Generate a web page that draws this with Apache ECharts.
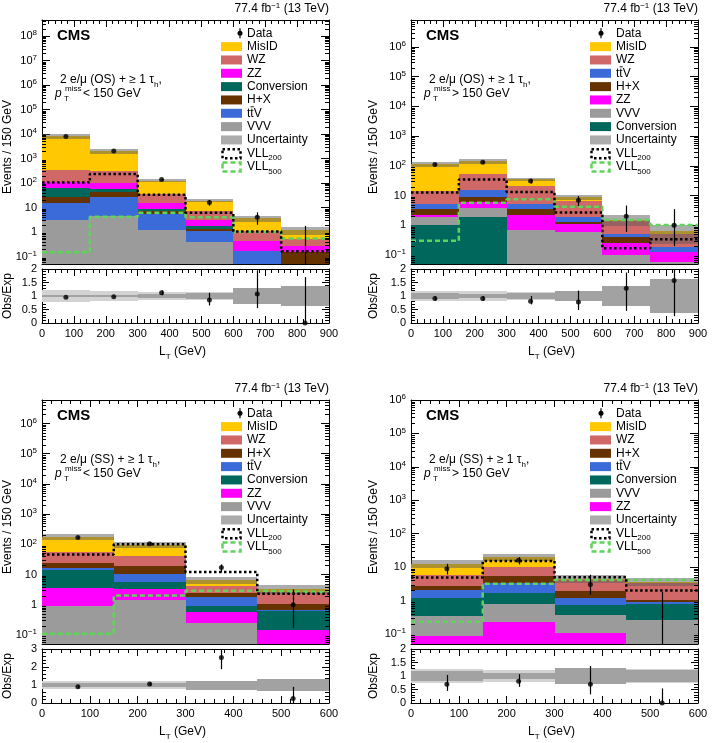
<!DOCTYPE html>
<html>
<head>
<meta charset="utf-8">
<title>L_T distributions, 2 e/mu + tau_h</title>
<script src="https://cdn.jsdelivr.net/npm/echarts@6/dist/echarts.min.js"></script>
<style>
  html, body { margin: 0; padding: 0; background: #fff; }
  #chart { width: 712px; height: 743px; }
</style>
</head>
<body>
<div id="chart"></div>
<script>
// bin edges of L_T (GeV)
var edges6 = [0, 150, 300, 450, 600, 750, 900];
var edges4 = [0, 150, 300, 450, 600];

// 2 e/mu (OS) + >=1 tau_h, ptmiss < 150 GeV  (yields per bin)
var p1_vvv = [3.1, 4.7, 1.27, 0.4, 0.005, 0.005];
var p1_ttv = [12.7, 21.3, 4.0, 0.7, 0.165, 0];
var p1_hx = [12.2, 19, 1.7, 0.3, 0, 0.145];
var p1_conv = [38, 14, 2.0, 0.45, 0, 0];
var p1_zz = [49, 46, 5.8, 1.25, 0.27, 0.11];
var p1_wz = [225, 205, 20, 4.3, 0.63, 0.24];
var p1_misid = [7660, 1690, 90, 11.6, 2.6, 0.7];
var p1_vll200 = [105, 235, 33.5, 6.2, 1.07, 0.165];
var p1_vll500 = [0.15, 4.2, 6.2, 4.0, 1.0, 0.55];
var p1_data = [7950, 2040, 140, 16, 4, 0];
var p1_dataLo = [7860, 1995, 128, 12, 2, 0];
var p1_dataHi = [8040, 2085, 152, 20, 6.4, 1.8];
var p1_ratio = [0.95, 0.97, 1.12, 0.85, 1.07, 0];
var p1_ratioLo = [0.94, 0.95, 1.03, 0.65, 0.55, 0];
var p1_ratioHi = [0.96, 0.99, 1.21, 1.12, 1.95, 1.7];
var p1_syst = [0.21, 0.2, 0.15, 0.15, 0.15, 0.2];
var p1_stat = [0.05, 0.04, 0.07, 0.11, 0.29, 0.36];

// 2 e/mu (OS) + >=1 tau_h, ptmiss > 150 GeV
var p2_conv = [1.05, 1.95, 0, 0, 0, 0];
var p2_vvv = [0.85, 1.95, 0.7, 0.58, 0.1, 0.06];
var p2_zz = [0.4, 2.3, 1.6, 0.5, 0.15, 0.07];
var p2_hx = [1.3, 2.9, 1.1, 0.25, 0.17, 0];
var p2_ttv = [1.8, 5.9, 2.0, 0.62, 0.08, 0.05];
var p2_wz = [8.5, 39, 15, 4.55, 0.9, 0.32];
var p2_misid = [101, 86, 15, 2.5, 0.15, 0.15];
var p2_vll200 = [12.6, 35, 13.3, 2.7, 0.17, 0.34];
var p2_vll500 = [0.3, 5.7, 7.5, 4.2, 1.5, 1.02];
var p2_data = [110, 133, 31, 7, 2, 1];
var p2_dataLo = [100, 122, 25.4, 4.4, 0.6, 0.2];
var p2_dataHi = [120, 144, 36.6, 9.6, 4.6, 3.5];
var p2_ratio = [0.91, 0.91, 0.81, 0.78, 1.29, 1.57];
var p2_ratioLo = [0.83, 0.83, 0.69, 0.48, 0.45, 0.25];
var p2_ratioHi = [0.99, 0.99, 1.0, 1.2, 1.87, 1.97];
var p2_syst = [0.2, 0.2, 0.13, 0.15, 0.3, 0.5];
var p2_stat = [0.1, 0.08, 0.12, 0.2, 0.38, 0.63];

// 2 e/mu (SS) + >=1 tau_h, ptmiss < 150 GeV
var p3_vvv = [0.93, 1.47, 0.25, 0.03];
var p3_zz = [2.67, 1.73, 0.32, 0.12];
var p3_conv = [10, 2.5, 0.31, 0.45];
var p3_ttv = [3.1, 4.8, 0.87, 0.08];
var p3_hx = [7.8, 8.5, 0.7, 0.39];
var p3_wz = [32.5, 22, 1.65, 1.53];
var p3_misid = [123, 54, 2.4, 0.7];
var p3_vll200 = [46, 100, 12, 2.3];
var p3_vll500 = [0.11, 2.0, 2.9, 2.6];
var p3_data = [167, 105, 17, 1];
var p3_dataLo = [154, 95, 11.7, 0.17];
var p3_dataHi = [180, 115, 21.5, 3.2];
var p3_ratio = [0.9, 1.05, 2.53, 0.25];
var p3_ratioLo = [0.83, 0.95, 1.88, 0];
var p3_ratioHi = [0.97, 1.15, 3.0, 0.9];
var p3_syst = [0.23, 0.23, 0.2, 0.2];
var p3_stat = [0.09, 0.09, 0.25, 0.33];

// 2 e/mu (SS) + >=1 tau_h, ptmiss > 150 GeV
var p4_zz = [0.089, 0.23, 0.11, 0.01];
var p4_vvv = [0.26, 0.57, 0.26, 0.25];
var p4_conv = [0.85, 0.9, 0.39, 0.54];
var p4_ttv = [0.8, 1.6, 0.44, 0.11];
var p4_hx = [0.7, 2.0, 0.7, 0.16];
var p4_wz = [3.2, 5.1, 2.3, 2.33];
var p4_misid = [6.7, 9.4, 0.3, 0.3];
var p4_vll200 = [4.9, 15.2, 5.0, 2.0];
var p4_vll500 = [0.23, 3.2, 4.1, 4.1];
var p4_data = [9, 16, 3, 0];
var p4_dataLo = [6, 12, 1.5, 0];
var p4_dataHi = [12.5, 20, 5.9, 1.8];
var p4_ratio = [0.69, 0.81, 0.69, 0];
var p4_ratioLo = [0.45, 0.6, 0.32, 0];
var p4_ratioHi = [1.04, 1.07, 1.37, 0.54];
var p4_syst = [0.27, 0.22, 0.28, 0.27];
var p4_stat = [0.18, 0.12, 0.28, 0.21];

var TTV = 'ttV';
var FONT = '"Liberation Sans", Arial, Helvetica, sans-serif';
var colors = {
  'MisID': '#ffc800', 'WZ': '#d06868', 'ZZ': '#ff00ff', 'Conversion': '#00675c',
  'H+X': '#663300', 'ttV': '#3a6bd8', 'VVV': '#9b9b9b'
};
var UNC = 'rgba(90,90,90,0.5)';
var LIGHT = '#d3d3d3', DARK = '#a2a2a2';

var panels = [
  { left: 42, top: 20, edges: edges6, yMax: 4.5e8, rMax: 2, rStep: 0.5, sign: 'OS', cut: '<', titleDx: 34, dotDx: 19,
    layers: [['VVV', p1_vvv], [TTV, p1_ttv], ['H+X', p1_hx], ['Conversion', p1_conv], ['ZZ', p1_zz], ['WZ', p1_wz], ['MisID', p1_misid]],
    vll200: p1_vll200, vll500: p1_vll500, data: p1_data, dataLo: p1_dataLo, dataHi: p1_dataHi,
    ratio: p1_ratio, ratioLo: p1_ratioLo, ratioHi: p1_ratioHi, syst: p1_syst, stat: p1_stat },
  { left: 411, top: 20, edges: edges6, yMax: 8e6, rMax: 2, rStep: 0.5, sign: 'OS', cut: '>', titleDx: 37, dotDx: 11,
    layers: [['Conversion', p2_conv], ['VVV', p2_vvv], ['ZZ', p2_zz], ['H+X', p2_hx], [TTV, p2_ttv], ['WZ', p2_wz], ['MisID', p2_misid]],
    vll200: p2_vll200, vll500: p2_vll500, data: p2_data, dataLo: p2_dataLo, dataHi: p2_dataHi,
    ratio: p2_ratio, ratioLo: p2_ratioLo, ratioHi: p2_ratioHi, syst: p2_syst, stat: p2_stat },
  { left: 42, top: 400, edges: edges4, yMax: 6e6, rMax: 3, rStep: 1, sign: 'SS', cut: '<', titleDx: 34, dotDx: 19,
    layers: [['VVV', p3_vvv], ['ZZ', p3_zz], ['Conversion', p3_conv], [TTV, p3_ttv], ['H+X', p3_hx], ['WZ', p3_wz], ['MisID', p3_misid]],
    vll200: p3_vll200, vll500: p3_vll500, data: p3_data, dataLo: p3_dataLo, dataHi: p3_dataHi,
    ratio: p3_ratio, ratioLo: p3_ratioLo, ratioHi: p3_ratioHi, syst: p3_syst, stat: p3_stat },
  { left: 411, top: 400, edges: edges4, yMax: 1e6, rMax: 2, rStep: 0.5, sign: 'SS', cut: '>', titleDx: 37, dotDx: 11,
    layers: [['ZZ', p4_zz], ['VVV', p4_vvv], ['Conversion', p4_conv], [TTV, p4_ttv], ['H+X', p4_hx], ['WZ', p4_wz], ['MisID', p4_misid]],
    vll200: p4_vll200, vll500: p4_vll500, data: p4_data, dataLo: p4_dataLo, dataHi: p4_dataHi,
    ratio: p4_ratio, ratioLo: p4_ratioLo, ratioHi: p4_ratioHi, syst: p4_syst, stat: p4_stat }
];

var W = 287, H = 244, RH = 54, GAP = 5, YMIN = 0.05;

function richSet(size) {
  return {
    m: { fontSize: size, fontFamily: FONT, fill: '#000' },
    i: { fontSize: size, fontFamily: FONT, fontStyle: 'italic', fill: '#000' },
    b: { fontSize: size, fontFamily: FONT, fontWeight: 'bold', fill: '#000' },
    sub: { fontSize: Math.round(size * 0.7), fontFamily: FONT, fill: '#000', padding: [Math.round(size * 0.8), 0, 0, 0] },
    sup: { fontSize: Math.round(size * 0.7), fontFamily: FONT, fill: '#000', padding: [0, 0, Math.round(size * 0.5), 0] }
  };
}

function txt(x, y, text, o) {
  o = o || {};
  var size = o.size || 12;
  return {
    type: 'text', x: x, y: y, rotation: o.rot || 0, silent: true, z: 100,
    style: {
      text: text, fill: '#000', fontSize: size, fontFamily: FONT,
      fontWeight: o.weight || 'normal', fontStyle: o.style || 'normal',
      align: o.align || 'left', textAlign: o.align || 'left',
      verticalAlign: 'middle', textVerticalAlign: 'middle',
      rich: richSet(size)
    }
  };
}

function logLabel(v) {
  var l = Math.log10(v), e = Math.round(l);
  if (Math.abs(l - e) > 1e-6) return '';
  if (e === 0) return '1';
  if (e === 1) return '10';
  return '{b|10}{s|' + (e < 0 ? '\u2212' + (-e) : e) + '}';
}

function xAxisCfg(gi, pos, xMax, labels) {
  return {
    type: 'value', gridIndex: gi, position: pos, min: 0, max: xMax, interval: 100,
    axisLine: { onZero: false, lineStyle: { color: '#000', width: 1 } },
    axisTick: { inside: true, length: 7, lineStyle: { color: '#000' } },
    minorTick: { show: true, splitNumber: 5, length: 4, lineStyle: { color: '#000' } },
    splitLine: { show: false }, minorSplitLine: { show: false },
    axisLabel: { show: labels, margin: 5, color: '#000', fontSize: 11, fontFamily: FONT }
  };
}

function logAxisCfg(gi, pos, yMax, labels) {
  return {
    type: 'log', logBase: 10, gridIndex: gi, position: pos, min: YMIN, max: yMax, splitNumber: 10,
    axisLine: { onZero: false, lineStyle: { color: '#000', width: 1 } },
    axisTick: { inside: true, length: 8, lineStyle: { color: '#000' } },
    minorTick: { show: false }, splitLine: { show: false },
    axisLabel: {
      show: labels, margin: 5, color: '#000', fontSize: 11, fontFamily: FONT, formatter: logLabel,
      rich: {
        b: { fontSize: 11, fontFamily: FONT, color: '#000' },
        s: { fontSize: 8, fontFamily: FONT, color: '#000', padding: [0, 0, 6, 0] }
      }
    }
  };
}

function ratioAxisCfg(gi, pos, p, labels) {
  return {
    type: 'value', gridIndex: gi, position: pos, min: 0, max: p.rMax, interval: p.rStep,
    axisLine: { onZero: false, lineStyle: { color: '#000', width: 1 } },
    axisTick: { inside: true, length: 7, lineStyle: { color: '#000' } },
    minorTick: { show: true, splitNumber: 5, length: 4, lineStyle: { color: '#000' } },
    splitLine: { show: false }, minorSplitLine: { show: false },
    axisLabel: { show: labels, margin: 5, color: '#000', fontSize: 11, fontFamily: FONT }
  };
}

function rectRender(style) {
  return function (params, api) {
    var a = api.coord([api.value(0), api.value(3)]);
    var b = api.coord([api.value(1), api.value(2)]);
    var x0 = Math.round(a[0]), y0 = Math.round(a[1]), x1 = Math.round(b[0]), y1 = Math.round(b[1]);
    return { type: 'rect', shape: { x: x0, y: y0, width: x1 - x0, height: y1 - y0 }, style: style };
  };
}

function errRender(params, api) {
  var a = api.coord([api.value(0), api.value(1)]);
  var b = api.coord([api.value(0), api.value(2)]);
  var x = Math.round(a[0]) + 0.5;
  return { type: 'line', shape: { x1: x, y1: a[1], x2: x, y2: b[1] }, style: { stroke: '#000', lineWidth: 1.2 } };
}

var option = { animation: false, backgroundColor: '#fff', grid: [], xAxis: [], yAxis: [], series: [], graphic: [] };
var G = option.graphic;

panels.forEach(function (p) {
  var nb = p.edges.length - 1, xMax = p.edges[nb], k;
  var centers = [];
  for (k = 0; k < nb; k++) centers.push((p.edges[k] + p.edges[k + 1]) / 2);
  var rTop = p.top + H + GAP;
  var gi = option.grid.length;
  option.grid.push({ left: p.left, top: p.top, width: W, height: H });
  option.grid.push({ left: p.left, top: rTop, width: W, height: RH });
  var xi = option.xAxis.length, yi = option.yAxis.length;
  option.xAxis.push(xAxisCfg(gi, 'bottom', xMax, false), xAxisCfg(gi, 'top', xMax, false),
    xAxisCfg(gi + 1, 'bottom', xMax, true), xAxisCfg(gi + 1, 'top', xMax, false));
  option.yAxis.push(logAxisCfg(gi, 'left', p.yMax, true), logAxisCfg(gi, 'right', p.yMax, false),
    ratioAxisCfg(gi + 1, 'left', p, true), ratioAxisCfg(gi + 1, 'right', p, false));

  // stacked backgrounds
  var cum = [];
  for (k = 0; k < nb; k++) cum.push(0);
  p.layers.forEach(function (l) {
    var items = [];
    l[1].forEach(function (v, b) {
      var lo = cum[b], hi = cum[b] + v;
      cum[b] = hi;
      var y0 = Math.max(lo, YMIN), y1 = Math.min(hi, p.yMax);
      if (y1 > y0) items.push([p.edges[b], p.edges[b + 1], y0, y1]);
    });
    option.series.push({
      type: 'custom', name: l[0], xAxisIndex: xi, yAxisIndex: yi, z: 2, silent: true,
      encode: { x: [0, 1], y: [2, 3] }, data: items, renderItem: rectRender({ fill: colors[l[0]] })
    });
  });

  // uncertainty band on the total
  var band = [];
  for (k = 0; k < nb; k++) {
    var u = Math.max(p.syst[k], p.stat[k]);
    band.push([p.edges[k], p.edges[k + 1], Math.max(cum[k] * (1 - u), YMIN), cum[k] * (1 + u)]);
  }
  option.series.push({
    type: 'custom', name: 'Uncertainty', xAxisIndex: xi, yAxisIndex: yi, z: 3, silent: true,
    encode: { x: [0, 1], y: [2, 3] }, data: band, renderItem: rectRender({ fill: UNC })
  });

  // signal outlines
  function stepData(vals) {
    return p.edges.map(function (e, j) { return [e, vals[Math.min(j, vals.length - 1)]]; });
  }
  option.series.push({
    type: 'line', name: 'VLL500', xAxisIndex: xi, yAxisIndex: yi, z: 4, step: 'end', symbol: 'none', silent: true,
    data: stepData(p.vll500), lineStyle: { color: '#5fd35a', width: 2.5, type: [5, 3], cap: 'butt' }
  });
  option.series.push({
    type: 'line', name: 'VLL200', xAxisIndex: xi, yAxisIndex: yi, z: 5, step: 'end', symbol: 'none', silent: true,
    data: stepData(p.vll200), lineStyle: { color: '#000', width: 2.5, type: [2.5, 2.5], cap: 'butt' }
  });

  // data
  var errs = [], pts = [];
  for (k = 0; k < nb; k++) {
    if (p.dataHi[k] > YMIN) errs.push([centers[k], Math.max(p.dataLo[k], YMIN), p.dataHi[k]]);
    if (p.data[k] > 0) pts.push([centers[k], p.data[k]]);
  }
  option.series.push({
    type: 'custom', name: 'Data err', xAxisIndex: xi, yAxisIndex: yi, z: 6, silent: true,
    encode: { x: 0, y: [1, 2] }, data: errs, renderItem: errRender
  });
  option.series.push({
    type: 'scatter', name: 'Data', xAxisIndex: xi, yAxisIndex: yi, z: 7, silent: true,
    symbol: 'circle', symbolSize: 5, itemStyle: { color: '#000' }, data: pts
  });

  // log minor ticks on both vertical edges
  var minor = [];
  for (var e = -2; e <= 9; e++) {
    for (var m = 2; m <= 9; m++) {
      var v = m * Math.pow(10, e);
      if (v > YMIN && v < p.yMax) minor.push([0, v]);
    }
  }
  option.series.push({
    type: 'custom', name: 'minor', xAxisIndex: xi, yAxisIndex: yi, z: 8, silent: true,
    encode: { x: 0, y: 1 }, data: minor,
    renderItem: function (params, api) {
      var a = api.coord([0, api.value(1)]), b = api.coord([xMax, api.value(1)]);
      var y = Math.round(a[1]) + 0.5;
      return { type: 'group', children: [
        { type: 'line', shape: { x1: a[0], y1: y, x2: a[0] + 4, y2: y }, style: { stroke: '#000', lineWidth: 1 } },
        { type: 'line', shape: { x1: b[0] - 4, y1: y, x2: b[0], y2: y }, style: { stroke: '#000', lineWidth: 1 } }
      ] };
    }
  });

  // ratio panel
  var light = [], dark = [], rErr = [], rPts = [];
  for (k = 0; k < nb; k++) {
    light.push([p.edges[k], p.edges[k + 1], 1 - p.syst[k], 1 + p.syst[k]]);
    dark.push([p.edges[k], p.edges[k + 1], 1 - p.stat[k], 1 + p.stat[k]]);
    rErr.push([centers[k], p.ratioLo[k], p.ratioHi[k]]);
    rPts.push([centers[k], p.ratio[k]]);
  }
  option.series.push({
    type: 'custom', name: 'syst', xAxisIndex: xi + 2, yAxisIndex: yi + 2, z: 2, silent: true,
    encode: { x: [0, 1], y: [2, 3] }, data: light, renderItem: rectRender({ fill: LIGHT })
  });
  option.series.push({
    type: 'custom', name: 'stat', xAxisIndex: xi + 2, yAxisIndex: yi + 2, z: 3, silent: true,
    encode: { x: [0, 1], y: [2, 3] }, data: dark, renderItem: rectRender({ fill: DARK })
  });
  option.series.push({
    type: 'custom', name: 'ratio err', xAxisIndex: xi + 2, yAxisIndex: yi + 2, z: 6, silent: true,
    encode: { x: 0, y: [1, 2] }, data: rErr, renderItem: errRender
  });
  option.series.push({
    type: 'scatter', name: 'ratio', xAxisIndex: xi + 2, yAxisIndex: yi + 2, z: 7, silent: true,
    symbol: 'circle', symbolSize: 5, itemStyle: { color: '#000' }, data: rPts, clip: false
  });

  // texts
  G.push(txt(p.left + W, p.top - 11, '77.4 fb{sup|\u22121} (13 TeV)', { align: 'right' }));
  G.push(txt(p.left + 15, p.top + 16, 'CMS', { size: 15, weight: 'bold' }));
  G.push(txt(p.left + 18, p.top + 60, '2 e/\u03bc (' + p.sign + ') + \u2265 1 \u03c4{sub|h},'));
  var L = p.left + 13, y2 = p.top + 74;
  G.push(txt(L, y2, 'p', { style: 'italic' }));
  G.push(txt(L + 9, y2 + 5, 'T', { size: 8 }));
  G.push(txt(L + 10, y2 - 5, 'miss', { size: 8 }));
  G.push(txt(L + 28, y2, p.cut + ' 150 GeV'));
  G.push(txt(p.left - p.titleDx, p.top + 127, 'Events / 150 GeV', { align: 'center', rot: Math.PI / 2 }));
  G.push(txt(p.left - p.titleDx, rTop + RH / 2, 'Obs/Exp', { align: 'center', rot: Math.PI / 2 }));
  G.push(txt(p.left + W / 2 - 3, rTop + RH + 29, 'L{sub|T} (GeV)', { align: 'center' }));

  // legend
  var bx = p.left + 179, tx = p.left + 205, y0 = p.top + 13.3, dy = 13.33;
  var rows = [['Data', 'data']];
  for (k = p.layers.length - 1; k >= 0; k--) rows.push([p.layers[k][0], 'fill']);
  rows.push(['Uncertainty', 'unc'], ['VLL{sub|200}', 'v200'], ['VLL{sub|500}', 'v500']);
  rows.forEach(function (r, j) {
    var yc = y0 + j * dy;
    if (r[1] === 'data') {
      G.push({ type: 'line', silent: true, z: 100, shape: { x1: bx + p.dotDx, y1: yc - 5, x2: bx + p.dotDx, y2: yc + 5 }, style: { stroke: '#000', lineWidth: 1.2 } });
      G.push({ type: 'circle', silent: true, z: 100, shape: { cx: bx + p.dotDx, cy: yc, r: 2.5 }, style: { fill: '#000' } });
    } else if (r[1] === 'fill' || r[1] === 'unc') {
      G.push({ type: 'rect', silent: true, z: 100, shape: { x: bx, y: yc - 4.5, width: 21, height: 9 }, style: { fill: r[1] === 'unc' ? UNC : colors[r[0]] } });
    } else {
      G.push({ type: 'rect', silent: true, z: 100, shape: { x: bx + 1.5, y: yc - 4, width: 18, height: 9 },
        style: { fill: 'none', stroke: r[1] === 'v200' ? '#000' : '#5fd35a', lineWidth: 2.5, lineDash: r[1] === 'v200' ? [2.5, 2.5] : [5, 3] } });
    }
    G.push(txt(tx, yc, r[0]));
    if (r[0] === TTV) {
      // bar over the second t (t-tbar)
      G.push({ type: 'line', silent: true, z: 100, shape: { x1: tx + 3.6, y1: yc - 6.5, x2: tx + 6.8, y2: yc - 6.5 }, style: { stroke: '#000', lineWidth: 0.9 } });
    }
  });
});

echarts.init(document.getElementById('chart')).setOption(option, true);
</script>
</body>
</html>
